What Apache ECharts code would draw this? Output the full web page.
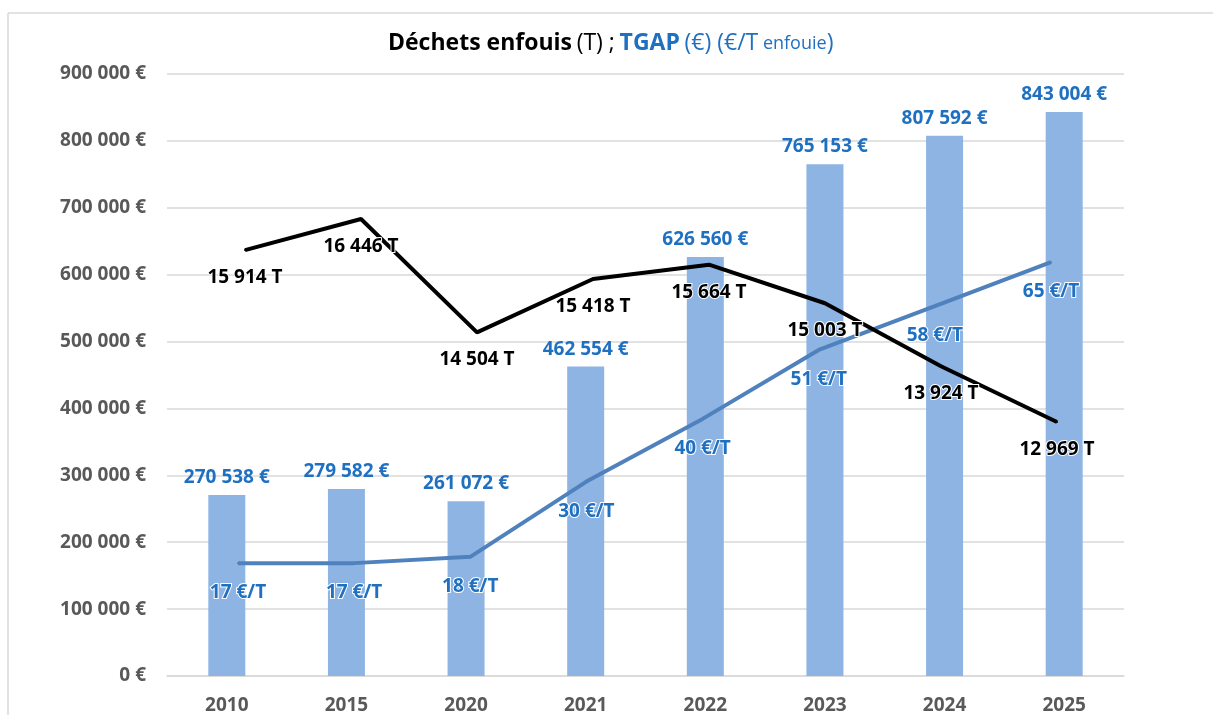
<!DOCTYPE html>
<html>
<head>
<meta charset="utf-8">
<title>Déchets enfouis ; TGAP</title>
<script src="https://cdn.jsdelivr.net/npm/echarts@6/dist/echarts.min.js"></script>
<style>
  html, body { margin: 0; padding: 0; background: #fff; }
  #chart { width: 1214px; height: 715px; }
</style>
</head>
<body>
<div id="chart"></div>
<script>
// données
const annees = ['2010', '2015', '2020', '2021', '2022', '2023', '2024', '2025']
const tgap = [270538, 279582, 261072, 462554, 626560, 765153, 807592, 843004] // €
const tonnes = [15914, 16446, 14504, 15418, 15664, 15003, 13924, 12969] // T enfouies
const tgapParTonne = [17, 17, 18, 30, 40, 51, 58, 65] // €/T

const BLEU = '#1F70C1'
const GRIS = '#595959'
const police = '"Open Sans", Lato, sans-serif'
const TAILLE = 19

// 1 234 567
function milliers(v) {
  return String(Math.round(v)).replace(/\B(?=(\d{3})+(?!\d))/g, ' ')
}

const chart = echarts.init(document.getElementById('chart'))

chart.setOption({
  animation: false,
  textStyle: { fontFamily: police },
  title: {
    left: 383,
    top: 27,
    text: '{b|Déchets enfouis} {n|(T) ;} {bb|TGAP} {nb|(€) (€/T}{s| enfouie}{nb|)}',
    textStyle: {
      rich: {
        b: { fontSize: 23, fontWeight: 'bold', color: '#000', fontFamily: police },
        n: { fontSize: 23, fontWeight: 'normal', color: '#000', fontFamily: police },
        bb: { fontSize: 23, fontWeight: 'bold', color: BLEU, fontFamily: police },
        nb: { fontSize: 23, fontWeight: 'normal', color: BLEU, fontFamily: police },
        s: { fontSize: 18, fontWeight: 'normal', color: BLEU, fontFamily: police }
      }
    }
  },
  graphic: [
    // cadre gris clair (haut + gauche)
    { type: 'line', shape: { x1: 8, y1: 13, x2: 1213, y2: 13 }, style: { stroke: '#D9D9D9', lineWidth: 1.5 } },
    { type: 'line', shape: { x1: 8, y1: 13, x2: 8, y2: 715 }, style: { stroke: '#D9D9D9', lineWidth: 1.5 } }
  ],
  grid: [
    { left: 167, right: 90, top: 74, bottom: 39 }, // barres
    { left: 245, right: 157, top: 74, bottom: 39 }, // ligne noire
    { left: 238, right: 163, top: 74, bottom: 39 } // ligne bleue
  ],
  xAxis: [
    {
      type: 'category',
      gridIndex: 0,
      data: annees,
      axisTick: { show: false },
      axisLine: { lineStyle: { color: '#D9D9D9', width: 1.5 } },
      axisLabel: { color: GRIS, fontWeight: 'bold', fontSize: TAILLE, margin: 20, fontFamily: police }
    },
    { type: 'category', gridIndex: 1, data: annees, boundaryGap: false, show: false },
    { type: 'category', gridIndex: 2, data: annees, boundaryGap: false, show: false }
  ],
  yAxis: [
    {
      type: 'value',
      gridIndex: 0,
      min: 0,
      max: 900000,
      interval: 100000,
      axisLine: { show: false },
      axisTick: { show: false },
      splitLine: { lineStyle: { color: '#D9D9D9', width: 1.5 } },
      axisLabel: {
        color: GRIS,
        fontWeight: 'bold',
        fontSize: TAILLE,
        margin: 21,
        fontFamily: police,
        formatter: v => milliers(v) + ' €'
      }
    },
    { type: 'value', gridIndex: 1, min: 8618, max: 18930, show: false, splitLine: { show: false } },
    { type: 'value', gridIndex: 2, min: -1, max: 95, show: false, splitLine: { show: false } }
  ],
  series: [
    {
      name: 'TGAP (€)',
      type: 'bar',
      xAxisIndex: 0,
      yAxisIndex: 0,
      data: tgap,
      barWidth: 37,
      itemStyle: { color: '#8EB4E3' },
      label: {
        show: true,
        position: 'top',
        distance: 8,
        color: BLEU,
        fontWeight: 'bold',
        fontSize: TAILLE,
        fontFamily: police,
        formatter: p => milliers(p.value) + ' €'
      },
      z: 2
    },
    {
      name: 'Déchets enfouis (T)',
      type: 'line',
      xAxisIndex: 1,
      yAxisIndex: 1,
      data: tonnes,
      symbol: 'circle',
      symbolSize: 2,
      itemStyle: { color: '#000' },
      lineStyle: { color: '#000', width: 4 },
      label: {
        show: true,
        position: 'bottom',
        distance: 17,
        color: '#000',
        fontWeight: 'bold',
        fontSize: TAILLE,
        fontFamily: police,
        textBorderColor: '#fff',
        textBorderWidth: 2,
        formatter: p => milliers(p.value) + ' T'
      },
      z: 4
    },
    {
      name: '€/T enfouie',
      type: 'line',
      xAxisIndex: 2,
      yAxisIndex: 2,
      data: tgapParTonne,
      symbol: 'circle',
      symbolSize: 2,
      itemStyle: { color: '#4F81BD' },
      lineStyle: { color: '#4F81BD', width: 4 },
      label: {
        show: true,
        position: 'bottom',
        distance: 19,
        color: BLEU,
        fontWeight: 'bold',
        fontSize: TAILLE,
        fontFamily: police,
        textBorderColor: '#fff',
        textBorderWidth: 2,
        formatter: p => p.value + ' €/T'
      },
      z: 3
    }
  ]
})
</script>
</body>
</html>
